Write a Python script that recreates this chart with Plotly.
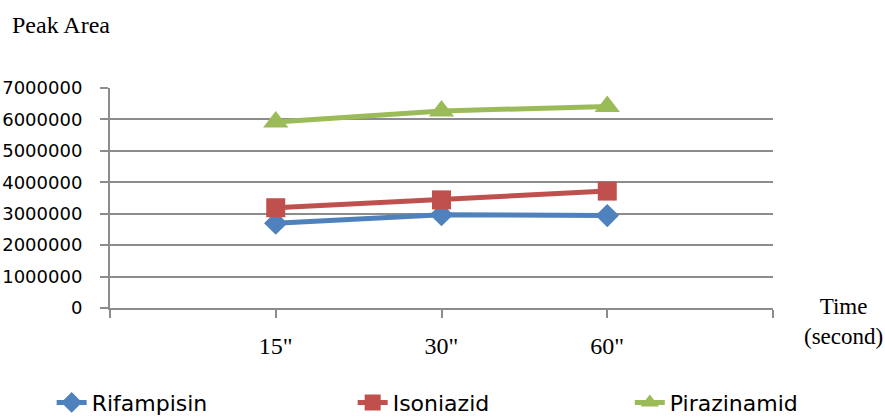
import plotly.graph_objects as go

# Sampling times and measured peak areas
times = ['15"', '30"', '60"']
rifampisin = [2700000, 2970000, 2940000]
isoniazid = [3190000, 3440000, 3720000]
pirazinamid = [5920000, 6270000, 6410000]

# name, values, colour, marker symbol, marker size, legend id, legend x
series = [
    ("Rifampisin", rifampisin, "#4F81BD", "diamond", 18, "legend", -0.088),
    ("Isoniazid", isoniazid, "#C0504D", "square", 19, "legend2", 0.366),
    ("Pirazinamid", pirazinamid, "#9BBB59", "triangle-up", 22, "legend3", 0.784),
]

xpos = list(range(1, len(times) + 1))

fig = go.Figure()
legend_layouts = {}
for name, vals, color, sym, size, leg, lx in series:
    fig.add_trace(go.Scatter(
        x=xpos, y=vals, name=name, mode="lines+markers",
        line=dict(color=color, width=5),
        marker=dict(symbol=sym, size=size, color=color),
        legend=leg,
    ))
    legend_layouts[leg] = dict(
        orientation="h", x=lx, xanchor="left", y=-0.43, yanchor="middle",
        font=dict(family="DejaVu Sans", size=22, color="black"),
        itemclick=False, bgcolor="rgba(0,0,0,0)",
    )

axis_color = "#8c8c8c"
fig.update_layout(
    width=885, height=418,
    margin=dict(l=110, r=112, t=88, b=110, autoexpand=False),
    paper_bgcolor="white", plot_bgcolor="white",
    showlegend=True,
    xaxis=dict(
        range=[0, len(times) + 1],
        tickvals=[0] + xpos + [len(times) + 1],
        ticktext=[""] + times + [""],
        showgrid=False, zeroline=False,
        showline=True, linecolor=axis_color, linewidth=2,
        ticks="outside", ticklen=8, tickcolor=axis_color, tickwidth=2,
        ticklabelstandoff=7,
        tickfont=dict(family="Liberation Serif", size=24, color="black"),
    ),
    yaxis=dict(
        range=[0, 7000000], dtick=1000000, tickformat="d",
        showgrid=True, gridcolor=axis_color, gridwidth=2,
        zeroline=False,
        showline=True, linecolor=axis_color, linewidth=2,
        ticks="outside", ticklen=8, tickcolor=axis_color, tickwidth=2,
        ticklabelstandoff=14,
        tickfont=dict(family="DejaVu Sans", size=18, color="black"),
    ),
    annotations=[
        dict(text="Peak Area", xref="paper", yref="paper",
             x=-0.151, y=1.286, xanchor="left", yanchor="middle",
             showarrow=False,
             font=dict(family="Liberation Serif", size=24, color="black")),
        dict(text="Time<br>(second)", xref="paper", yref="paper",
             x=1.106, y=-0.06, xanchor="center", yanchor="middle",
             showarrow=False, align="center",
             font=dict(family="Liberation Serif", size=23, color="black")),
    ],
    **legend_layouts,
)

fig.write_html("out.html")
